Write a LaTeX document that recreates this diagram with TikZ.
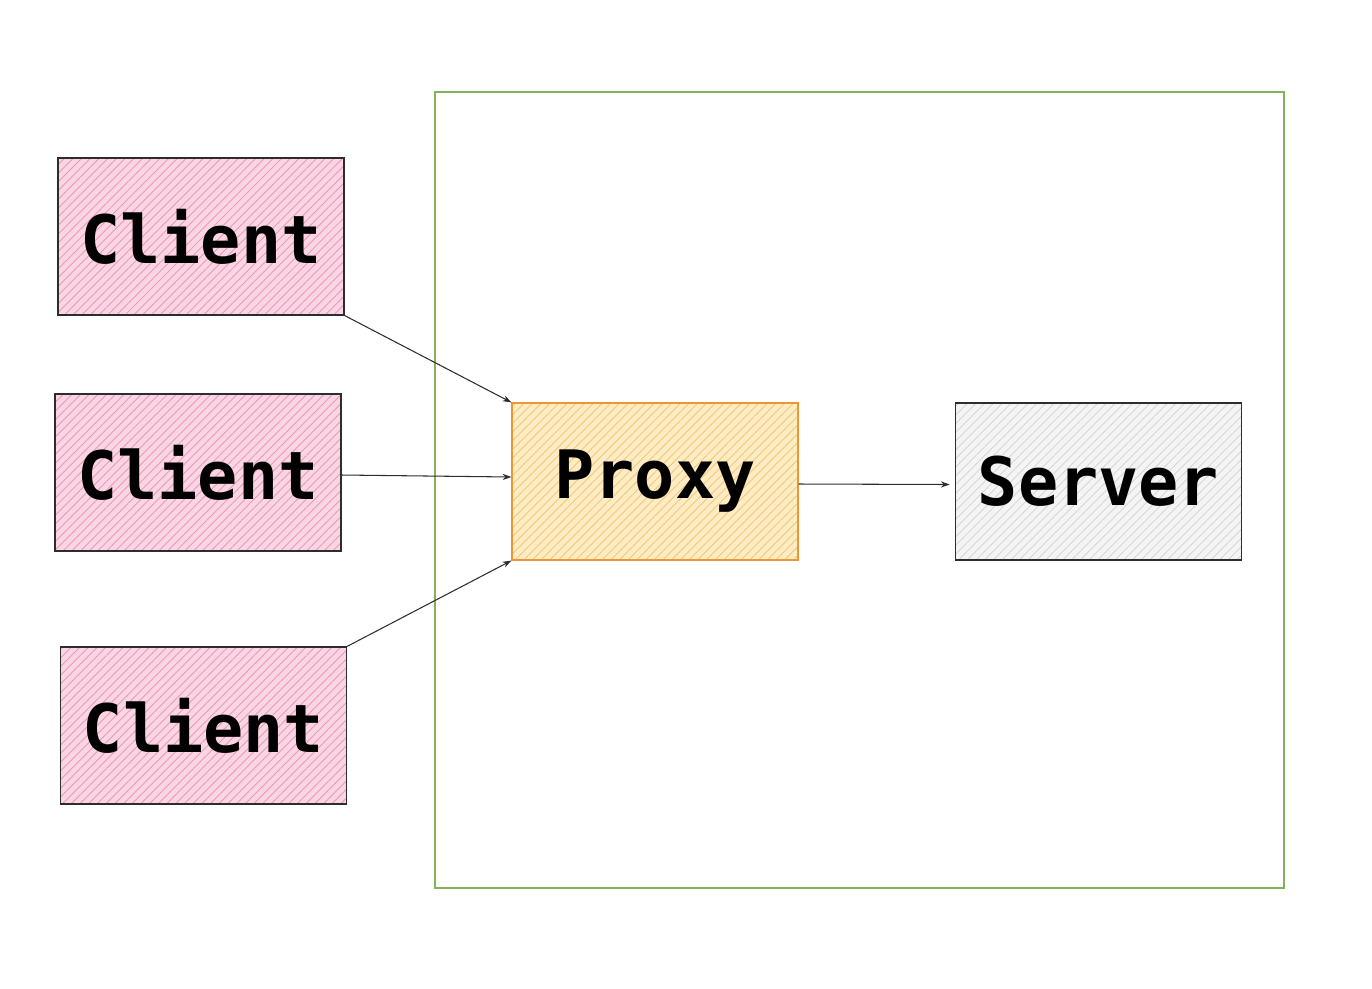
\documentclass[tikz,border=0pt]{standalone}
\usepackage{fontspec}
\setmonofont{DejaVu Sans Mono}
\usetikzlibrary{positioning, arrows.meta, patterns.meta}
\definecolor{clipink}{RGB}{250,214,228}
\definecolor{clihatch}{RGB}{238,150,185}
\definecolor{prxfill}{RGB}{253,236,196}
\definecolor{prxhatch}{RGB}{246,200,120}
\definecolor{prxedge}{RGB}{236,150,52}
\definecolor{srvfill}{RGB}{244,244,244}
\definecolor{srvhatch}{RGB}{214,214,214}
\definecolor{zonegreen}{RGB}{130,178,90}
\definecolor{inkdark}{RGB}{45,45,45}
\tikzset{
    sketchbox/.style={rectangle, draw=inkdark, line width=0.7pt, inner sep=0pt,
        minimum width=5.72cm, minimum height=3.14cm, align=center,
        font=\fontsize{38}{40}\selectfont\ttfamily\bfseries},
    clientbox/.style={sketchbox, preaction={fill=clipink},
        pattern={Lines[angle=45, distance=3.5pt, line width=0.5pt]}, pattern color=clihatch},
    proxybox/.style={sketchbox, draw=prxedge, preaction={fill=prxfill},
        pattern={Lines[angle=45, distance=3.5pt, line width=0.5pt]}, pattern color=prxhatch},
    serverbox/.style={sketchbox, preaction={fill=srvfill},
        pattern={Lines[angle=45, distance=3.5pt, line width=0.5pt]}, pattern color=srvhatch},
    zone/.style={rectangle, draw=zonegreen, line width=0.8pt, inner sep=0pt},
    link/.style={-{Stealth[length=5pt, width=3.5pt]}, line width=0.6pt, color=inkdark}
}
\begin{document}
\begin{tikzpicture}[x=0.02cm, y=-0.02cm]
    \useasboundingbox (0,0) rectangle (1372,988);
    % outer zone
    \node[zone, minimum width=16.98cm, minimum height=15.92cm] (frame) at (859.5,490) {};
    % clients
    \node[clientbox] (c1) at (201,236.5) {Client};
    \node[clientbox] (c2) at (198,472.5) {Client};
    \node[clientbox] (c3) at (203.5,725.5) {Client};
    % proxy and server
    \node[proxybox] (proxy) at (655,481.5) {Proxy};
    \node[serverbox] (server) at (1098.5,481.5) {Server};
    % links
    \draw[link] (c1.south east) -- (proxy.north west);
    \draw[link] ([yshift=-0.05cm]c2.east) -- ([yshift=0.09cm]proxy.west);
    \draw[link] (c3.north east) -- (proxy.south west);
    \draw[link] ([yshift=-0.05cm]proxy.east) -- ([xshift=-3pt, yshift=-0.06cm]server.west);
\end{tikzpicture}
\end{document}
